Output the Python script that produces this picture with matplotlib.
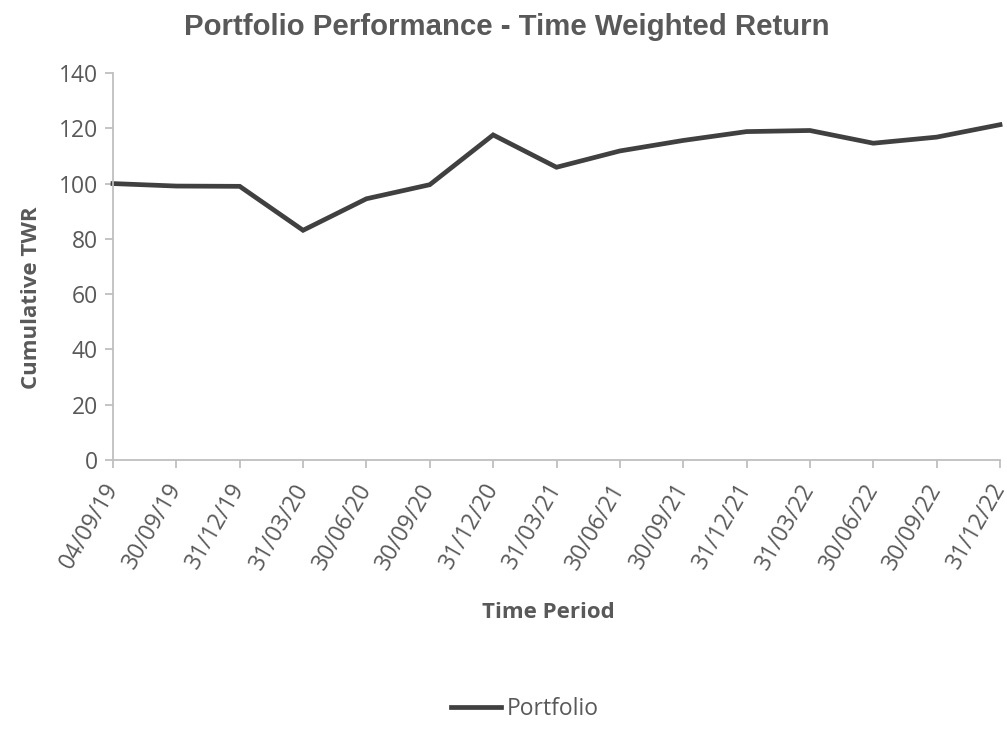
import matplotlib
matplotlib.use("Agg")
import matplotlib.pyplot as plt

dates = ["04/09/19", "30/09/19", "31/12/19", "31/03/20", "30/06/20", "30/09/20",
         "31/12/20", "31/03/21", "30/06/21", "30/09/21", "31/12/21", "31/03/22",
         "30/06/22", "30/09/22", "31/12/22"]
portfolio = [100.0, 99.1, 99.0, 83.1, 94.5, 99.6, 117.6, 105.9, 111.8, 115.6,
             118.8, 119.2, 114.6, 116.8, 121.3]
yticks = [0, 20, 40, 60, 80, 100, 120, 140]

TEXT = "#595959"
AXC = "#BFBFBF"
LINE = "#404040"
FONT = ["Open Sans", "DejaVu Sans"]

fig = plt.figure(figsize=(10.07, 7.46), dpi=100)
ax = fig.add_axes([113/1007, 1-460/746, (1000-113)/1007, (460-73)/746])

x = list(range(len(dates)))
ax.plot(x, portfolio, color=LINE, lw=3.4, solid_joinstyle="miter", label="Portfolio",
        clip_on=False)

ax.set_xlim(0, len(dates)-1)
ax.set_ylim(0, 140)
ax.set_yticks(yticks)
ax.set_yticklabels([str(v) for v in yticks], fontsize=16.5, color=TEXT, family=FONT)
ax.set_xticks(x)
ax.set_xticklabels(dates, rotation=60, ha="right", va="center", rotation_mode="anchor",
                   fontsize=16.5, color=TEXT, family=FONT)

for s in ["top", "right"]:
    ax.spines[s].set_visible(False)
for s in ["left", "bottom"]:
    ax.spines[s].set_color(AXC)
    ax.spines[s].set_linewidth(1.3)
ax.tick_params(axis="both", colors=AXC, length=6, width=1.3)
ax.tick_params(axis="x", pad=12)
ax.tick_params(axis="y", pad=5)
for lab in ax.get_xticklabels() + ax.get_yticklabels():
    lab.set_color(TEXT)

fig.text(507/1007, 1-27/746, "Portfolio Performance - Time Weighted Return",
         ha="center", va="center", fontsize=21.2, fontweight="bold", color=TEXT,
         family=["Liberation Sans", "DejaVu Sans"])
fig.text(548/1007, 1-613/746, "Time Period", ha="center", va="center",
         fontsize=16, fontweight="bold", color=TEXT, family=FONT)
fig.text(32/1007, 1-298/746, "Cumulative TWR", ha="center", va="center", rotation=90,
         fontsize=16, fontweight="bold", color=TEXT, family=FONT)

leg = fig.legend(loc="center", bbox_to_anchor=(525/1007, 1-709/746), frameon=False,
                 handlelength=2.2, handletextpad=0.25,
                 prop={"family": FONT, "size": 16.5})
for t in leg.get_texts():
    t.set_color(TEXT)

fig.savefig("out.png", dpi=100)
